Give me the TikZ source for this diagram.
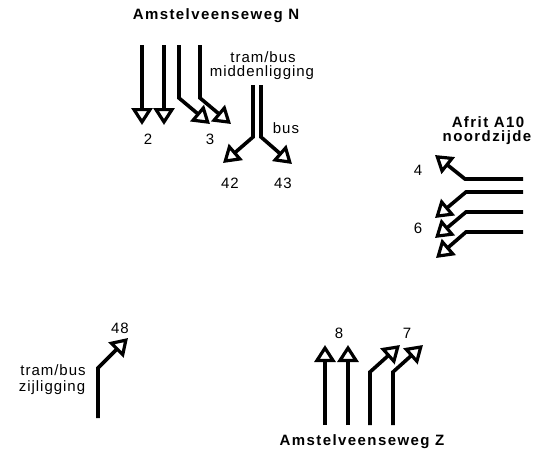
\documentclass[tikz,border=0pt]{standalone}
\usepackage{fontspec}
\setmainfont{Liberation Sans}
\newfontfamily\labfont[LetterSpace=6.5]{Liberation Sans}
\newfontfamily\ttlfont[LetterSpace=9.5]{Liberation Sans}
\usetikzlibrary{arrows.meta}
\tikzset{
  lane/.style={line width=3.6pt, line join=miter, -{Triangle[open, length=17pt, width=21pt, line width=3.2pt]}},
  lab/.style={inner sep=0pt, font=\labfont\fontsize{15}{17}\selectfont, align=center},
  ttl/.style={inner sep=0pt, font=\ttlfont\bfseries\fontsize{15}{17}\selectfont, align=center},
}
\begin{document}
\begin{tikzpicture}[x=1pt,y=-1pt]
\useasboundingbox (0,0) rectangle (539,455);
% titles
\node[ttl] (tN) at (216,16) {Amstelveenseweg N};
\node[ttl] (tZ) at (362,442) {Amstelveenseweg Z};
\node[ttl] (tA1) at (488,122) {Afrit A10};
\node[ttl] (tA2) at (487,138) {noordzijde};
% north group
\coordinate (n1s) at (142,45); \coordinate (n1e) at (142,125);
\coordinate (n2s) at (164,45); \coordinate (n2e) at (164,125);
\coordinate (n3s) at (179,45); \coordinate (n3b) at (179,98); \coordinate (n3e) at (210,124);
\coordinate (n4s) at (200,45); \coordinate (n4b) at (200,98); \coordinate (n4e) at (231,124);
\draw[lane] (n1s) -- (n1e);
\draw[lane] (n2s) -- (n2e);
\draw[lane] (n3s) -- (n3b) -- (n3e);
\draw[lane] (n4s) -- (n4b) -- (n4e);
\node[lab] (l2) at (148,139) {2};
\node[lab] (l3) at (210,139) {3};
\node[lab] (tb1) at (263,57) {tram/bus};
\node[lab] (tb2) at (262,73) {middenligging};
\coordinate (m1s) at (253,85); \coordinate (m1b) at (253,137); \coordinate (m1e) at (223,163);
\coordinate (m2s) at (261,85); \coordinate (m2b) at (261,137); \coordinate (m2e) at (292,164);
\draw[lane] (m1s) -- (m1b) -- (m1e);
\draw[lane] (m2s) -- (m2b) -- (m2e);
\node[lab] (lbus) at (286,128) {bus};
\node[lab] (l42) at (230,183) {42};
\node[lab] (l43) at (283,183) {43};
% east group
\coordinate (e1s) at (523,179); \coordinate (e1b) at (465,179); \coordinate (e1e) at (435,155);
\coordinate (e2s) at (523,192); \coordinate (e2b) at (466,192); \coordinate (e2e) at (435,218);
\coordinate (e3s) at (523,212); \coordinate (e3b) at (466,212); \coordinate (e3e) at (435,238);
\coordinate (e4s) at (523,232); \coordinate (e4b) at (466,232); \coordinate (e4e) at (436,258);
\draw[lane] (e1s) -- (e1b) -- (e1e);
\draw[lane] (e2s) -- (e2b) -- (e2e);
\draw[lane] (e3s) -- (e3b) -- (e3e);
\draw[lane] (e4s) -- (e4b) -- (e4e);
\node[lab] (l4) at (418,170) {4};
\node[lab] (l6) at (418,228) {6};
% south-west
\coordinate (w1s) at (98,418); \coordinate (w1b) at (98,368); \coordinate (w1e) at (128,338);
\draw[lane] (w1s) -- (w1b) -- (w1e);
\node[lab] (l48) at (120,328) {48};
\node[lab] (tz1) at (53,370) {tram/bus};
\node[lab] (tz2) at (52,388) {zijligging};
% south group
\coordinate (s1s) at (325,425); \coordinate (s1e) at (325,345);
\coordinate (s2s) at (348,425); \coordinate (s2e) at (348,345);
\coordinate (s3s) at (370,425); \coordinate (s3b) at (370,372); \coordinate (s3e) at (400,345);
\coordinate (s4s) at (393,425); \coordinate (s4b) at (393,372); \coordinate (s4e) at (423,345);
\draw[lane] (s1s) -- (s1e);
\draw[lane] (s2s) -- (s2e);
\draw[lane] (s3s) -- (s3b) -- (s3e);
\draw[lane] (s4s) -- (s4b) -- (s4e);
\node[lab] (l8) at (339,333) {8};
\node[lab] (l7) at (407,333) {7};
\end{tikzpicture}
\end{document}
